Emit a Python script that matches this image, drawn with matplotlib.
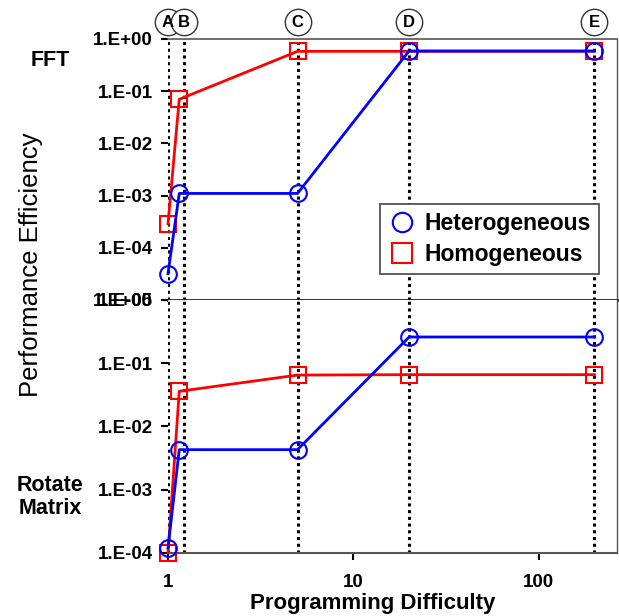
import matplotlib

matplotlib.use("Agg")
import matplotlib.pyplot as plt
import numpy as np
from matplotlib.ticker import FixedLocator, FuncFormatter, NullLocator

plt.rcParams["font.family"] = ["Liberation Sans", "DejaVu Sans"]

# 设计点 A-E（x = 编程难度）
point_names = ["A", "B", "C", "D", "E"]
guide_x = [1.0, 1.22, 5.0, 20.0, 200.0]
marker_x = [1.0, 1.15, 5.0, 20.0, 200.0]

# FFT
fft_het = [3.2e-5, 1.1e-3, 1.1e-3, 0.59, 0.59]
fft_hom = [2.9e-4, 0.07, 0.58, 0.58, 0.58]
# Rotate Matrix
rot_het = [1.2e-4, 4.3e-3, 4.3e-3, 0.26, 0.26]
rot_hom = [1.0e-4, 0.036, 0.065, 0.066, 0.066]

x_ticks = [1, 10, 100]
fft_yticks = [1, 1e-1, 1e-2, 1e-3, 1e-4, 1e-5]
rot_yticks = [1, 1e-1, 1e-2, 1e-3, 1e-4]


def sci_label(v, _pos=None):
    return f"1.E{int(round(np.log10(v))):+03d}"


fig = plt.figure(figsize=(6.19, 6.16), dpi=100)
ax_top = fig.add_axes([0.2714, 0.513, 0.7254, 0.4237])
ax_bot = fig.add_axes([0.2714, 0.1023, 0.7254, 0.4107])

for ax, het, hom, yt, ylo in [
    (ax_top, fft_het, fft_hom, fft_yticks, 1e-5),
    (ax_bot, rot_het, rot_hom, rot_yticks, 1e-4),
]:
    ax.set_xscale("log")
    ax.set_yscale("log")
    ax.set_xlim(1, 265)
    ax.set_ylim(ylo, 1)
    for gx in guide_x:
        ax.axvline(gx, color="black", ls=(0, (1, 1.2)), lw=2.2, zorder=1)
    ax.plot(marker_x, hom, color="red", lw=2, marker="s", ms=11, mfc="none",
            mec="red", mew=1.5, clip_on=False, zorder=3, label="Homogeneous")
    ax.plot(marker_x, het, color="blue", lw=2, marker="o", ms=12, mfc="none",
            mec="blue", mew=1.5, clip_on=False, zorder=4, label="Heterogeneous")
    ax.yaxis.set_major_locator(FixedLocator(yt))
    ax.yaxis.set_major_formatter(FuncFormatter(sci_label))
    ax.yaxis.set_minor_locator(NullLocator())
    ax.xaxis.set_minor_locator(NullLocator())
    ax.tick_params(axis="y", direction="out", length=5, width=1.5, pad=6,
                   labelsize=13.5)
    for lab in ax.get_yticklabels():
        lab.set_fontweight("bold")
    ax.spines["left"].set_visible(False)
    ax.spines["right"].set_color("#555555")
    ax.spines["right"].set_linewidth(1)

# 上图：顶边灰色，底边为中间分隔线
ax_top.spines["top"].set_color("#555555")
ax_top.spines["top"].set_linewidth(1.2)
ax_top.spines["bottom"].set_color("#222222")
ax_top.spines["bottom"].set_linewidth(2)
ax_top.set_xticks([])

ax_bot.spines["top"].set_visible(False)
ax_bot.spines["bottom"].set_color("#555555")
ax_bot.spines["bottom"].set_linewidth(1.5)
ax_bot.xaxis.set_major_locator(FixedLocator(x_ticks))
ax_bot.set_xticklabels([str(t) for t in x_ticks], fontweight="bold")
ax_bot.tick_params(axis="x", direction="out", length=5, width=1.5, pad=10,
                   labelsize=13.5)

# 图例只显示标记
handles, labels = ax_top.get_legend_handles_labels()
leg = ax_top.legend(handles[::-1], labels[::-1], loc="lower right",
                    bbox_to_anchor=(0.985, 0.055), frameon=True, fancybox=False,
                    edgecolor="#444444", framealpha=1, handlelength=1.2,
                    handletextpad=0.4, borderpad=0.35, labelspacing=0.35,
                    prop={"size": 16.5, "weight": "bold"})
leg.get_frame().set_linewidth(1.2)
for h in leg.legend_handles:
    h.set_linestyle("none")
    h.set_markersize(14)

# 顶部圆圈字母
trans = ax_top.get_xaxis_transform()
for name, gx in zip(point_names, guide_x):
    ax_top.plot([gx], [1.065], marker="o", ms=19, mfc="white", mec="#333333",
                mew=1, transform=trans, clip_on=False, zorder=5)
    ax_top.text(gx, 1.065, name, transform=trans, ha="center", va="center",
                fontsize=12, fontweight="bold", zorder=6)

fig.text(50 / 619, 1 - 60 / 616, "FFT", ha="center", va="center",
         fontsize=15.5, fontweight="bold")
fig.text(50 / 619, 1 - 497 / 616, "Rotate\nMatrix", ha="center", va="center",
         fontsize=15.5, fontweight="bold", linespacing=1.1)
fig.text(31 / 619, 1 - 265 / 616, "Performance Efficiency", ha="center",
         va="center", rotation=90, fontsize=18.5)
fig.text(373 / 619, 1 - 603 / 616, "Programming Difficulty", ha="center",
         va="center", fontsize=16, fontweight="bold")

fig.savefig("out.png", dpi=100)
